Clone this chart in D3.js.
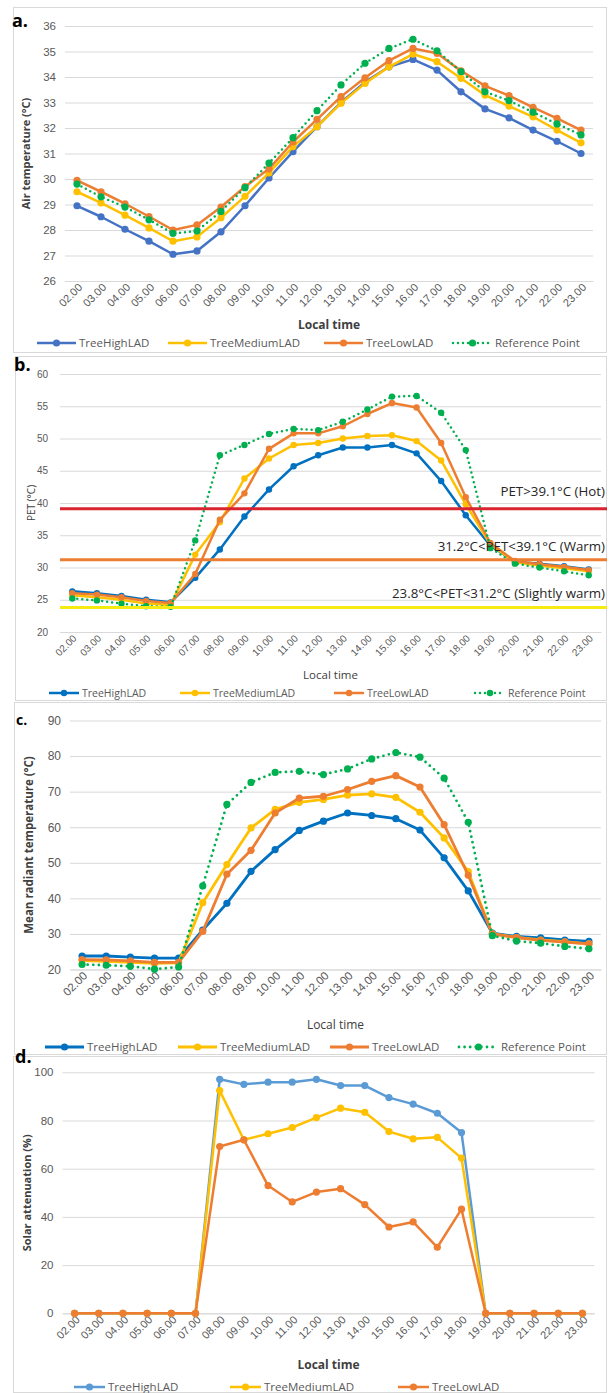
<!DOCTYPE html>
<html><head><meta charset="utf-8">
<script src="https://cdn.jsdelivr.net/npm/d3@7"></script>
<style>
body{margin:0;background:#fff;}
svg{display:block;font-family:"Open Sans",sans-serif;}
</style></head>
<body><svg id="chart" width="612" height="1393"></svg>
<script>
const hours = ["02.00","03.00","04.00","05.00","06.00","07.00","08.00","09.00","10.00","11.00","12.00","13.00","14.00","15.00","16.00","17.00","18.00","19.00","20.00","21.00","22.00","23.00"];
const seriesNames = ["TreeHighLAD","TreeMediumLAD","TreeLowLAD","Reference Point"];

// a. Air temperature (°C)
const airHigh   = [28.95,28.52,28.03,27.56,27.05,27.18,27.93,28.95,30.04,31.07,32.05,33.0,33.8,34.4,34.69,34.27,33.42,32.75,32.4,31.92,31.48,31.0];
const airMedium = [29.5,29.06,28.58,28.08,27.56,27.73,28.48,29.32,30.24,31.27,32.05,32.97,33.75,34.4,34.9,34.6,33.95,33.29,32.86,32.44,31.92,31.42];
const airLow    = [29.95,29.5,29.03,28.53,28.0,28.2,28.9,29.7,30.4,31.45,32.34,33.23,33.97,34.64,35.12,34.93,34.24,33.65,33.27,32.81,32.38,31.92];
const airRef    = [29.8,29.3,28.9,28.4,27.87,27.96,28.73,29.66,30.62,31.62,32.68,33.69,34.54,35.12,35.48,35.03,34.21,33.42,33.07,32.62,32.16,31.73];
const airTicks  = [26,27,28,29,30,31,32,33,34,35,36];

// b. PET (°C)
const petHigh   = [26.3,26.0,25.6,25.0,24.6,28.4,32.8,37.9,42.1,45.7,47.4,48.6,48.6,49.0,47.7,43.4,38.1,33.4,30.9,30.6,30.2,29.7];
const petMedium = [25.7,25.4,25.0,24.4,24.2,32.0,37.0,43.8,46.9,49.0,49.3,50.0,50.4,50.5,49.6,46.6,39.8,33.6,30.8,30.3,29.9,29.4];
const petLow    = [26.0,25.8,25.4,24.8,24.5,29.0,37.4,41.5,48.4,50.8,50.8,51.9,53.8,55.5,54.8,49.3,40.9,33.8,31.0,30.5,30.1,29.6];
const petRef    = [25.2,24.9,24.4,24.0,23.9,34.2,47.4,49.0,50.7,51.5,51.3,52.6,54.5,56.5,56.6,54.0,48.2,33.0,30.6,30.0,29.4,28.8];
const petTicks  = [20,25,30,35,40,45,50,55,60];
const petLimits = [39.1,31.2,23.8];
const petLimitLabels = ["PET>39.1°C (Hot)","31.2°C<PET<39.1°C (Warm)","23.8°C<PET<31.2°C (Slightly warm)"];

// c. Mean radiant temperature (°C)
const mrtHigh   = [23.8,23.8,23.5,23.2,23.2,31.1,38.6,47.6,53.7,59.1,61.7,64.0,63.3,62.4,59.2,51.4,42.1,30.2,29.3,28.9,28.3,27.9];
const mrtMedium = [22.5,22.3,22.0,21.7,21.9,38.8,49.5,59.8,65.0,67.0,67.8,69.0,69.4,68.4,64.2,57.0,47.5,30.0,29.0,28.3,27.8,27.2];
const mrtLow    = [22.8,22.7,22.4,22.0,22.0,30.7,46.8,53.5,64.0,68.2,68.7,70.6,72.9,74.5,71.3,60.7,46.5,30.0,29.0,28.2,27.7,27.2];
const mrtRef    = [21.4,21.2,20.9,20.1,20.7,43.5,66.4,72.6,75.4,75.7,74.8,76.4,79.2,81.0,79.7,73.8,61.4,29.5,28.0,27.4,26.5,25.8];
const mrtTicks  = [20,30,40,50,60,70,80,90];

// d. Solar attenuation (%)
const solarHigh   = [0,0,0,0,0,0,97.1,95.0,95.9,95.9,97.1,94.5,94.5,89.5,86.8,83.0,75.0,0,0,0,0,0];
const solarMedium = [0,0,0,0,0,0,92.4,72.0,74.5,77.1,81.2,85.1,83.4,75.4,72.4,73.0,64.4,0,0,0,0,0];
const solarLow    = [0,0,0,0,0,0,69.2,72.0,53.0,46.2,50.3,51.7,45.1,35.8,37.9,27.4,43.2,0,0,0,0,0];
const solarTicks  = [0,20,40,60,80,100];

const svg = d3.select("#chart");

function panel(cfg){
  const g = svg.append("g");
  g.append("rect").attr("x",cfg.box[0]+0.5).attr("y",cfg.box[1]+0.5)
    .attr("width",cfg.box[2]-cfg.box[0]).attr("height",cfg.box[3]-cfg.box[1])
    .attr("fill","none").attr("stroke","#d9d9d9").attr("stroke-width",1);
  const x = d3.scaleBand().domain(hours).range(cfg.xr);
  const y = d3.scaleLinear().domain(cfg.yd).range(cfg.yr);
  const cx = d => x(d) + x.bandwidth()/2;
  const yAxis = d3.axisLeft(y).tickValues(cfg.ticks).tickSize(-(cfg.xr[1]-cfg.xr[0])).tickPadding(cfg.tickPad||9);
  const ya = g.append("g").attr("transform",`translate(${cfg.xr[0]},0)`).call(yAxis);
  ya.select(".domain").remove();
  ya.selectAll("line").attr("stroke","#d9d9d9");
  ya.selectAll("text").attr("fill","#595959").style("font-size",cfg.tickFont+"px");
  const xAxis = d3.axisBottom(x).tickSize(0).tickPadding(0);
  const xa = g.append("g").attr("transform",`translate(0,${cfg.yr[0]})`).call(xAxis);
  xa.select(".domain").attr("stroke","#d9d9d9");
  xa.selectAll("text").attr("fill","#595959").style("font-size",cfg.xTickFont+"px")
    .attr("text-anchor","end").attr("dy",0)
    .attr("transform",`translate(${cfg.xtOff[0]},${cfg.xtOff[1]}) rotate(-45)`);
  cfg.series.forEach(s=>{
    const line = d3.line().x((d,i)=>cx(hours[i])).y(d=>y(d));
    const p = g.append("path").datum(s.data).attr("d",line).attr("fill","none")
      .attr("stroke",s.color).attr("stroke-width",cfg.lw).attr("stroke-linejoin","round");
    if(s.dotted) p.attr("stroke-dasharray","0,"+(cfg.lw*2)).attr("stroke-linecap","round");
    g.append("g").selectAll("circle").data(s.data).join("circle")
      .attr("cx",(d,i)=>cx(hours[i])).attr("cy",d=>y(d)).attr("r",cfg.r).attr("fill",s.color);
  });
  g.append("text").attr("x",cfg.title[0]).attr("y",cfg.title[1]).text(cfg.titleText)
    .style("font-weight","bold").style("font-size",cfg.titleFont+"px").attr("fill","#000");
  g.append("text").attr("transform",`translate(${cfg.yLab[0]},${(cfg.yr[0]+cfg.yr[1])/2}) rotate(-90)`)
    .attr("text-anchor","middle").attr("dy","0.35em").text(cfg.yLabel)
    .style("font-weight",cfg.yLabBold?"bold":"normal").style("font-size",cfg.yLabFont+"px")
    .attr("fill","#404040");
  g.append("text").attr("x",(cfg.xr[0]+cfg.xr[1])/2).attr("y",cfg.xLabY).attr("text-anchor","middle")
    .text("Local time").style("font-weight",cfg.xLabBold?"bold":"normal").style("font-size",cfg.xLabFont+"px").attr("fill","#404040");
  cfg.series.forEach((s,i)=>{
    const lx = cfg.legX[i], ly = cfg.legY, L = cfg.legLen;
    const ln = g.append("line").attr("x1",lx).attr("x2",lx+L).attr("y1",ly).attr("y2",ly)
      .attr("stroke",s.color).attr("stroke-width",cfg.lw);
    if(s.dotted) ln.attr("stroke-dasharray","0,"+(cfg.lw*2)).attr("stroke-linecap","round");
    g.append("circle").attr("cx",lx+L/2).attr("cy",ly).attr("r",cfg.r).attr("fill",s.color);
    g.append("text").attr("x",lx+L+3).attr("y",ly).attr("dy","0.35em").text(s.name)
      .style("font-size",cfg.legFont+"px").attr("fill","#595959");
  });
  return {x,y};
}

// a
panel({
  box:[13,7,606,352], xr:[65,593], yr:[281,26], yd:[26,36], ticks:airTicks,
  tickFont:11.5, xTickFont:11, xtOff:[6,7], lw:2.5, r:3.6,
  title:[12,27], titleText:"a.", titleFont:18,
  yLab:[26,0], yLabel:"Air temperature (°C)", yLabBold:true, yLabFont:11,
  xLabY:329, xLabBold:true, xLabFont:12,
  legX:[37,168,324,453], legY:343, legLen:39, legFont:11.5,
  series:[
    {name:seriesNames[0],data:airHigh,color:"#4472c4"},
    {name:seriesNames[1],data:airMedium,color:"#ffc000"},
    {name:seriesNames[2],data:airLow,color:"#ed7d31"},
    {name:seriesNames[3],data:airRef,color:"#00b050",dotted:true}]
});

// b
const limitColors = ["#d9232e","#ed7d31","#f5eb10"];
const limitOffsets = [-13,-9,-9];
const pb = panel({
  box:[15,356,606,700], xr:[60,601], yr:[632,374], yd:[20,60], ticks:petTicks,
  tickFont:10, xTickFont:10, tickPad:12, xtOff:[5,7], lw:2.5, r:3.2,
  title:[14,371], titleText:"b.", titleFont:18,
  yLab:[31,0], yLabel:"PET (°C)", yLabBold:false, yLabFont:10,
  xLabY:679, xLabBold:false, xLabFont:11.5,
  legX:[49,180,334,475], legY:693, legLen:30, legFont:10.5,
  series:[
    {name:seriesNames[0],data:petHigh,color:"#0070c0"},
    {name:seriesNames[1],data:petMedium,color:"#ffc000"},
    {name:seriesNames[2],data:petLow,color:"#ed7d31"},
    {name:seriesNames[3],data:petRef,color:"#00b050",dotted:true}]
});
(function(){
  const y = pb.y;
  const g = svg.append("g");
  petLimits.forEach((v,i)=>{
    g.append("line").attr("x1",60).attr("x2",607).attr("y1",y(v)).attr("y2",y(v))
      .attr("stroke",limitColors[i]).attr("stroke-width",3);
    g.append("text").attr("x",605).attr("y",y(v)+limitOffsets[i]).attr("text-anchor","end")
      .text(petLimitLabels[i]).style("font-size","13.3px").attr("fill","#262626");
  });
})();

// c
panel({
  box:[14,702,606,1054], xr:[70,601], yr:[969.5,720.5], yd:[20,90], ticks:mrtTicks,
  tickFont:12, xTickFont:11.5, xtOff:[6,7], lw:2.8, r:3.6,
  title:[16,725], titleText:"c.", titleFont:14,
  yLab:[29,0], yLabel:"Mean radiant temperature (°C)", yLabBold:true, yLabFont:11.5,
  xLabY:1029, xLabBold:false, xLabFont:12,
  legX:[45,178,330,459], legY:1047, legLen:39, legFont:11.5,
  series:[
    {name:seriesNames[0],data:mrtHigh,color:"#0070c0"},
    {name:seriesNames[1],data:mrtMedium,color:"#ffc000"},
    {name:seriesNames[2],data:mrtLow,color:"#ed7d31"},
    {name:seriesNames[3],data:mrtRef,color:"#00b050",dotted:true}]
});

// d
panel({
  box:[13,1056,606,1392], xr:[62.5,594.5], yr:[1313.3,1072.3], yd:[0,100], ticks:solarTicks,
  tickFont:11.5, xTickFont:11, xtOff:[6,7], lw:2.5, r:3.6,
  title:[15,1063], titleText:"d.", titleFont:18,
  yLab:[27,0], yLabel:"Solar attenuation (%)", yLabBold:true, yLabFont:11,
  xLabY:1369, xLabBold:true, xLabFont:12,
  legX:[74,230,398], legY:1387, legLen:31, legFont:11.5,
  series:[
    {name:seriesNames[0],data:solarHigh,color:"#5b9bd5"},
    {name:seriesNames[1],data:solarMedium,color:"#ffc000"},
    {name:seriesNames[2],data:solarLow,color:"#ed7d31"}]
});
</script></body></html>
